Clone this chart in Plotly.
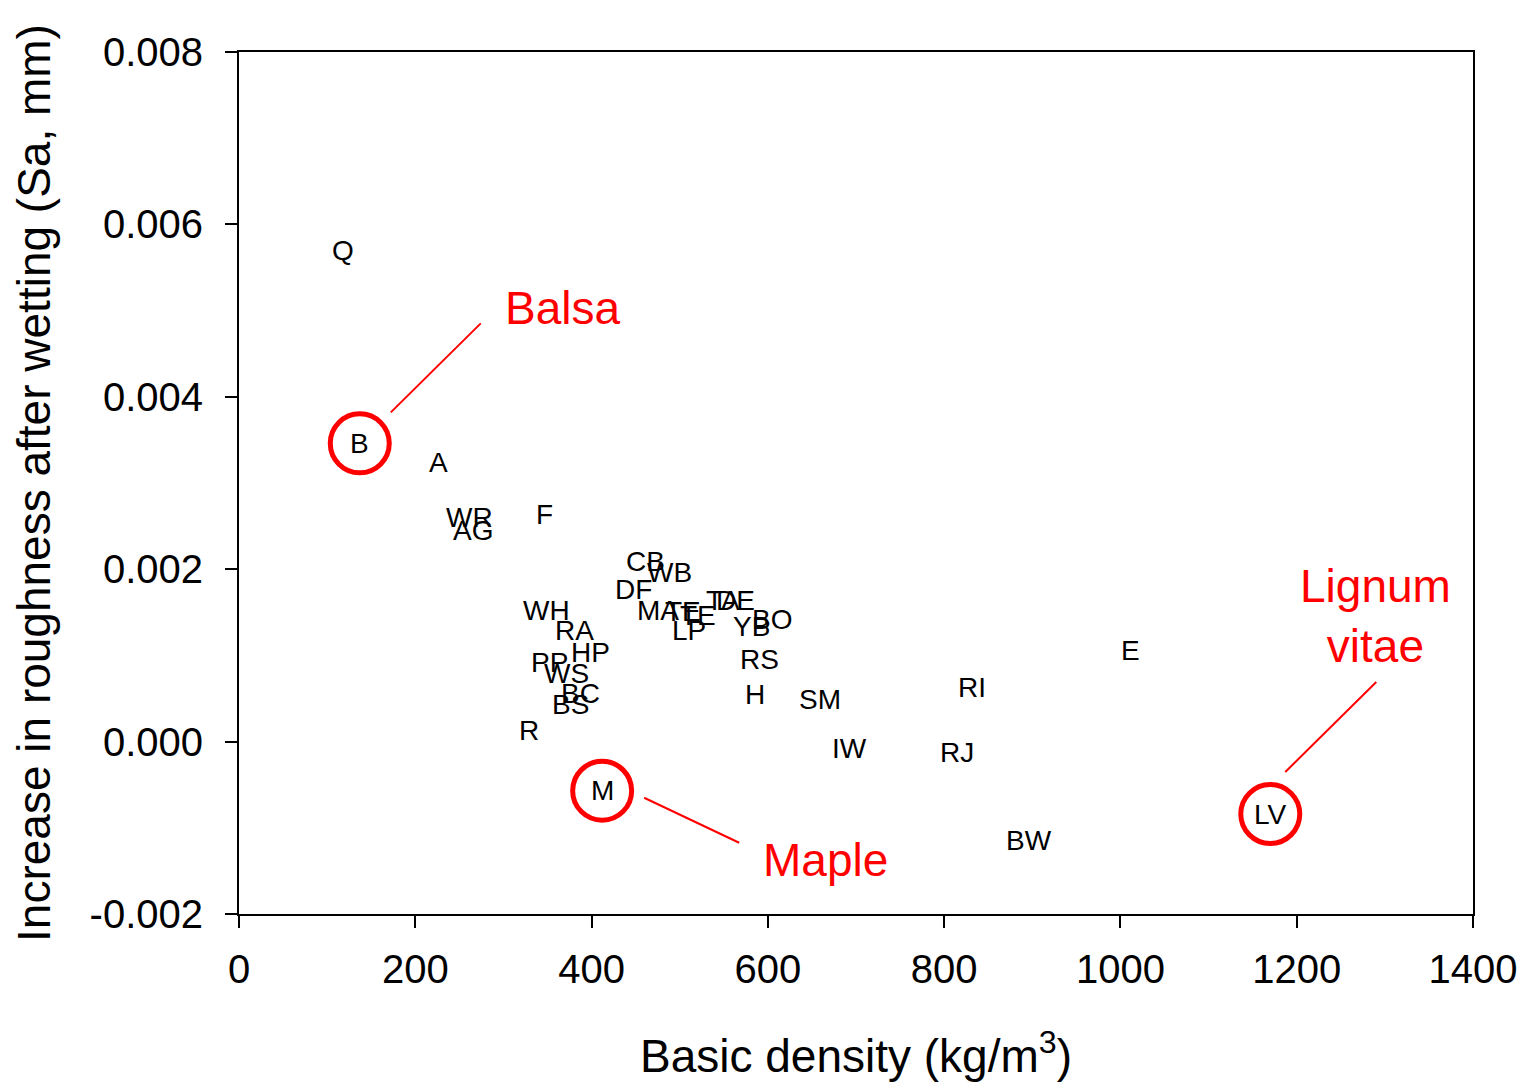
import plotly.graph_objects as go

# ---- data ----
labels = ["Q", "B", "A", "WR", "AG", "F", "CB", "WB", "DF", "WH", "RA", "HP", "PP", "WS",
          "BC", "BS", "R", "M", "MA", "TE", "TE", "LP", "TA", "DE", "YB", "BO", "RS", "H",
          "SM", "IW", "RJ", "RI", "E", "BW", "LV"]
density = [118, 137, 226, 262, 265, 347, 461, 488, 448, 349, 381, 399, 352, 371,
           387, 376, 329, 412, 475, 504, 521, 511, 549, 563, 582, 605, 590, 585,
           659, 693, 815, 832, 1011, 896, 1170]
roughness = [0.00570, 0.00346, 0.00324, 0.00260, 0.00245, 0.00263, 0.00209, 0.00196,
             0.00177, 0.00152, 0.00129, 0.00103, 0.00092, 0.00079, 0.00056, 0.00043,
             0.00013, -0.00057, 0.00152, 0.00151, 0.00146, 0.00129, 0.00164, 0.00164,
             0.00133, 0.00142, 0.00095, 0.00055, 0.00049, -0.00008, -0.00013, 0.00063,
             0.00106, -0.00115, -0.00084]

highlight = ["B", "M", "LV"]
highlight_names = ["Balsa", "Maple", "Lignum<br>vitae"]

x_ticks = [0, 200, 400, 600, 800, 1000, 1200, 1400]
y_ticks = [-0.002, 0.000, 0.002, 0.004, 0.006, 0.008]
y_ticktext = ["-0.002", "0.000", "0.002", "0.004", "0.006", "0.008"]

FONT = "Liberation Sans, Arial, sans-serif"
RED = "#ff0000"

fig = go.Figure()

# invisible points (for hover) + labels drawn as annotations centred on each point
fig.add_trace(go.Scatter(
    x=density, y=roughness, text=labels, mode="markers",
    marker=dict(size=1, opacity=0),
    hoverinfo="text", showlegend=False,
))
for lab, xv, yv in zip(labels, density, roughness):
    fig.add_annotation(x=xv, y=yv, xref="x", yref="y", text=lab, showarrow=False,
                       xanchor="center", yanchor="middle",
                       font=dict(family=FONT, size=28, color="black"))

hx = [density[labels.index(h)] for h in highlight]
hy = [roughness[labels.index(h)] for h in highlight]
fig.add_trace(go.Scatter(
    x=hx, y=hy, mode="markers",
    marker=dict(symbol="circle-open", size=59, color=RED, line=dict(width=5, color=RED)),
    showlegend=False, hoverinfo="skip", cliponaxis=False,
))

# callout offsets in pixels relative to highlighted points (line start, line end, text)
line_offsets = [(31, 31, 121, 120), (42, -7, 137, -52), (15, 42, 106, 132)]
text_offsets = [(203, 135), (223, -69), (105, 198)]

for (px, py), name, (lx0, ly0, lx1, ly1), (tx, ty) in zip(zip(hx, hy), highlight_names,
                                                          line_offsets, text_offsets):
    fig.add_shape(type="line", xref="x", yref="y",
                  xsizemode="pixel", ysizemode="pixel",
                  xanchor=px, yanchor=py,
                  x0=lx0, x1=lx1, y0=ly0, y1=ly1,
                  line=dict(color=RED, width=2))
    fig.add_annotation(x=px, y=py, xref="x", yref="y", text=name, showarrow=False,
                       xshift=tx, yshift=ty,
                       font=dict(family=FONT, size=46, color=RED),
                       align="center")

fig.update_layout(
    width=1532, height=1082,
    margin=dict(l=231, r=67, t=44, b=176),
    paper_bgcolor="white", plot_bgcolor="white",
    font=dict(family=FONT, color="black"),
)

fig.update_xaxes(
    range=[0, 1400], tickvals=x_ticks, ticktext=[str(v) for v in x_ticks],
    showgrid=False, zeroline=False, automargin=False,
    showline=True, linecolor="black", linewidth=2, mirror=True,
    ticks="outside", ticklen=12, tickwidth=2, tickcolor="black",
    ticklabelstandoff=7,
    tickfont=dict(family=FONT, size=40, color="black"),
    title=dict(text="Basic density (kg/m<sup>3</sup>)",
               font=dict(family=FONT, size=46, color="black"), standoff=50),
)
fig.update_yaxes(
    range=[-0.002, 0.008], tickvals=y_ticks, ticktext=y_ticktext,
    showgrid=False, zeroline=False, automargin=False,
    showline=True, linecolor="black", linewidth=2, mirror=True,
    ticks="outside", ticklen=12, tickwidth=2, tickcolor="black",
    ticklabelstandoff=14,
    tickfont=dict(family=FONT, size=40, color="black"),
    title=dict(text="Increase in roughness after wetting (Sa, mm)",
               font=dict(family=FONT, size=46, color="black"), standoff=24),
)

fig.write_html("out.html")
